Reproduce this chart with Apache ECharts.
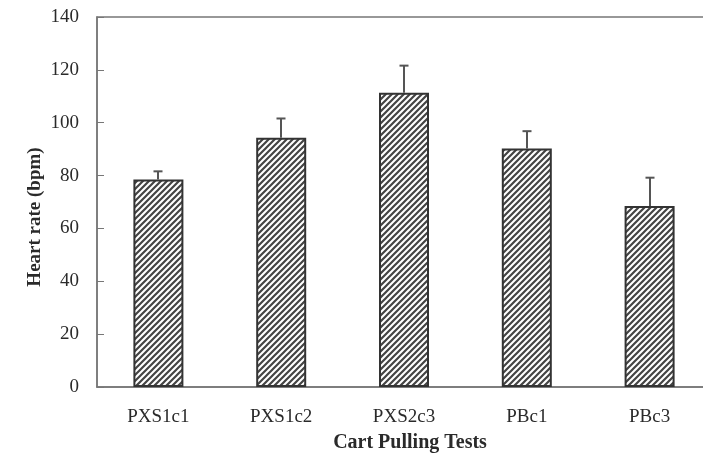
<!DOCTYPE html>
<html>
<head>
<meta charset="utf-8">
<script src="https://cdn.jsdelivr.net/npm/echarts@6/dist/echarts.min.js"></script>
<style>
  html, body { margin: 0; padding: 0; background: #fff; }
  #chart { width: 703px; height: 458px; }
</style>
</head>
<body>
<div id="chart"></div>
<script>
const categories = ["PXS1c1", "PXS1c2", "PXS2c3", "PBc1", "PBc3"];
const heartRate = [78.5, 94.3, 111.3, 90.2, 68.5];
const errorTop = [81.6, 101.6, 121.6, 96.8, 79.2];
const yTicks = [0, 20, 40, 60, 80, 100, 120, 140];

const serif = "'Liberation Serif', 'DejaVu Serif', serif";
const axisGray = "#777";
const ink = "#2a2a2a";

// diagonal hatch tile (/// lines)
function hatch() {
  const size = 6;
  const c = document.createElement("canvas");
  c.width = size;
  c.height = size;
  const g = c.getContext("2d");
  g.fillStyle = "#fff";
  g.fillRect(0, 0, size, size);
  g.strokeStyle = "#444";
  g.lineWidth = 2.2;
  g.beginPath();
  g.moveTo(-1, size + 1);
  g.lineTo(size + 1, -1);
  g.moveTo(-1, 1);
  g.lineTo(1, -1);
  g.moveTo(size - 1, size + 1);
  g.lineTo(size + 1, size - 1);
  g.stroke();
  return c;
}

const chart = echarts.init(document.getElementById("chart"), null, { renderer: "canvas" });

chart.setOption({
  animation: false,
  grid: {
    left: 97, right: -8, top: 17, bottom: 71,
    outerBoundsMode: "none",
    containLabel: false,
    show: true, borderColor: axisGray, borderWidth: 1.5, backgroundColor: "transparent"
  },
  xAxis: {
    type: "category",
    data: categories,
    name: "Cart Pulling Tests",
    nameLocation: "middle",
    nameGap: 46,
    nameTextStyle: { fontFamily: serif, fontSize: 20, fontWeight: "bold", color: ink, padding: [0, 0, 0, 12] },
    axisLine: { lineStyle: { color: axisGray, width: 1.5 } },
    axisTick: { inside: true, length: 5, lineStyle: { color: axisGray } },
    axisLabel: { fontFamily: serif, fontSize: 19, color: ink, margin: 21 },
    splitLine: { show: false }
  },
  yAxis: {
    type: "value",
    min: yTicks[0],
    max: yTicks[yTicks.length - 1],
    interval: yTicks[1] - yTicks[0],
    name: "Heart rate (bpm)",
    nameLocation: "middle",
    nameGap: 52,
    nameMoveOverlap: false,
    nameTextStyle: { fontFamily: serif, fontSize: 19, fontWeight: "bold", color: ink, padding: [0, 30, 0, 0] },
    axisLine: { show: true, lineStyle: { color: axisGray, width: 1.5 } },
    axisTick: { show: true, inside: true, length: 7, lineStyle: { color: axisGray } },
    axisLabel: { fontFamily: serif, fontSize: 19, color: ink, margin: 18 },
    splitLine: { show: false }
  },
  series: [
    {
      type: "bar",
      data: heartRate,
      barWidth: 50,
      itemStyle: {
        color: { image: hatch(), repeat: "repeat" },
        borderColor: "#333",
        borderWidth: 2
      },
      z: 2
    },
    {
      type: "custom",
      data: categories.map((c, i) => [i, heartRate[i], errorTop[i]]),
      z: 3,
      renderItem(params, api) {
        const base = api.coord([api.value(0), api.value(1)]);
        const top = api.coord([api.value(0), api.value(2)]);
        const x = Math.round(base[0]);
        const cap = 4.5;
        const style = { stroke: "#555", lineWidth: 2 };
        return {
          type: "group",
          children: [
            { type: "line", shape: { x1: x, y1: base[1], x2: x, y2: top[1] }, style },
            { type: "line", shape: { x1: x - cap, y1: top[1], x2: x + cap, y2: top[1] }, style }
          ]
        };
      }
    }
  ]
});
</script>
</body>
</html>
